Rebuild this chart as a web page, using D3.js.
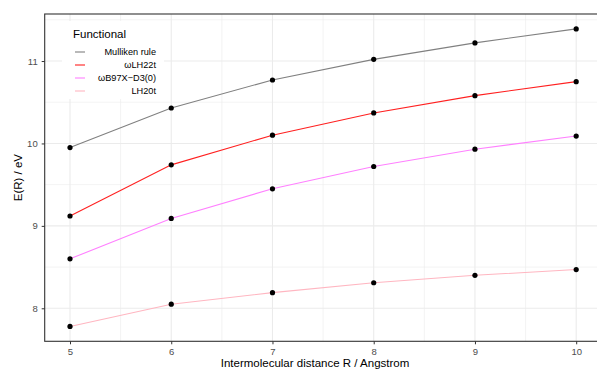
<!DOCTYPE html>
<html>
<head>
<meta charset="utf-8">
<script src="https://cdn.jsdelivr.net/npm/d3@7"></script>
<style>
  body { margin: 0; background: #fff; overflow: hidden; }
  text { font-family: "Liberation Sans", Arial, sans-serif; }
</style>
</head>
<body>
<div id="chart"></div>
<script>
// distances R (Angstrom)
var distances = [5, 6, 7, 8, 9, 10];
var functionals = ["Mulliken rule", "\u03c9LH22t", "\u03c9B97X\u2212D3(0)", "LH20t"];
var mulliken = [9.95, 10.43, 10.77, 11.02, 11.22, 11.39];
var wlh22t = [9.12, 9.74, 10.10, 10.37, 10.58, 10.75];
var wb97x = [8.60, 9.09, 9.45, 9.72, 9.93, 10.09];
var lh20t = [7.78, 8.05, 8.19, 8.31, 8.40, 8.47];
var colors = ["#808080", "#FF2020", "#FF80FF", "#FFB6C1"];
var xTicks = [5, 6, 7, 8, 9, 10];
var yTicks = [8, 9, 10, 11];

var series = [mulliken, wlh22t, wb97x, lh20t].map(function(v, i){
    return {name: functionals[i], color: colors[i],
            values: v.map(function(e, j){ return {r: distances[j], e: e}; })};
});

var width = 597, height = 372;
// the plot panel runs a bit past the right edge of the window
var margin = {top: 14, right: -4.5, bottom: 30.7, left: 44.7};

var svg = d3.select("#chart").append("svg")
    .attr("width", width)
    .attr("height", height)
    .style("display", "block");

var x = d3.scaleLinear()
    .domain([4.75, 10.25])
    .range([margin.left, width - margin.right]);

var allE = d3.merge([mulliken, wlh22t, wb97x, lh20t]);
var ext = d3.extent(allE);
var pad = (ext[1] - ext[0]) * 0.05;
var y = d3.scaleLinear()
    .domain([ext[0] - pad, ext[1] + pad])
    .range([height - margin.bottom, margin.top]);

// grid
var minorX = d3.range(5.5, 10.5, 1);
var minorY = d3.range(7.5, 11.6, 1).filter(function(d){ return d > y.domain()[0] && d < y.domain()[1]; });
var grid = svg.append("g");
grid.selectAll(".gxm").data(minorX).enter().append("line")
    .attr("x1", d => x(d)).attr("x2", d => x(d))
    .attr("y1", y.range()[0]).attr("y2", y.range()[1])
    .attr("stroke", "#EBEBEB").attr("stroke-width", 0.6);
grid.selectAll(".gym").data(minorY).enter().append("line")
    .attr("y1", d => y(d)).attr("y2", d => y(d))
    .attr("x1", x.range()[0]).attr("x2", x.range()[1])
    .attr("stroke", "#EBEBEB").attr("stroke-width", 0.6);
grid.selectAll(".gx").data(xTicks).enter().append("line")
    .attr("x1", d => x(d)).attr("x2", d => x(d))
    .attr("y1", y.range()[0]).attr("y2", y.range()[1])
    .attr("stroke", "#EBEBEB").attr("stroke-width", 1.1);
grid.selectAll(".gy").data(yTicks).enter().append("line")
    .attr("y1", d => y(d)).attr("y2", d => y(d))
    .attr("x1", x.range()[0]).attr("x2", x.range()[1])
    .attr("stroke", "#EBEBEB").attr("stroke-width", 1.1);

// lines and points
var line = d3.line().x(d => x(d.r)).y(d => y(d.e));
svg.selectAll(".series").data(series).enter().append("path")
    .attr("d", d => line(d.values))
    .attr("fill", "none")
    .attr("stroke", d => d.color)
    .attr("stroke-width", 1.1);

series.forEach(function(s){
    svg.selectAll(null).data(s.values).enter().append("circle")
        .attr("cx", d => x(d.r))
        .attr("cy", d => y(d.e))
        .attr("r", 2.6)
        .attr("fill", "black");
});

// axes
var xAxis = svg.append("g")
    .attr("transform", "translate(0," + (height - margin.bottom) + ")")
    .call(d3.axisBottom(x).tickValues(xTicks).tickFormat(d3.format("d")).tickSize(3).tickPadding(4));
var yAxis = svg.append("g")
    .attr("transform", "translate(" + margin.left + ",0)")
    .call(d3.axisLeft(y).tickValues(yTicks).tickFormat(d3.format("d")).tickSize(3).tickPadding(4));
[xAxis, yAxis].forEach(function(a){
    a.select(".domain").remove();
    a.selectAll("line").attr("stroke", "#333333");
    a.selectAll("text").attr("fill", "#4D4D4D").style("font-size", "9.5px")
        .style("font-family", "Liberation Sans, Arial, sans-serif");
});

// panel border
svg.append("rect")
    .attr("x", x.range()[0]).attr("y", y.range()[1])
    .attr("width", x.range()[1] - x.range()[0])
    .attr("height", y.range()[0] - y.range()[1])
    .attr("fill", "none").attr("stroke", "#333333").attr("stroke-width", 1.1);

// axis titles
svg.append("text")
    .attr("x", 315)
    .attr("y", height - 5)
    .attr("text-anchor", "middle")
    .style("font-size", "11.5px")
    .text("Intermolecular distance R / Angstrom");
svg.append("text")
    .attr("transform", "translate(22," + ((y.range()[0] + y.range()[1]) / 2) + ") rotate(-90)")
    .attr("text-anchor", "middle")
    .style("font-size", "11.5px")
    .text("E(R) / eV");

// legend
var legend = svg.append("g").attr("transform", "translate(62,21)");
legend.append("rect")
    .attr("x", 0).attr("y", 0).attr("width", 102).attr("height", 78)
    .attr("fill", "white");
legend.append("text")
    .attr("x", 11).attr("y", 17)
    .style("font-size", "11.5px")
    .text("Functional");
var items = legend.selectAll(".item").data(series).enter().append("g")
    .attr("transform", (d, i) => "translate(0," + (31 + i * 13) + ")");
items.append("line")
    .attr("x1", 13).attr("x2", 23)
    .attr("stroke", d => d.color).attr("stroke-width", 1.1);
items.append("text")
    .attr("x", 94).attr("y", 3.3)
    .attr("text-anchor", "end")
    .style("font-size", "9.2px")
    .text(d => d.name);
</script>
</body>
</html>
